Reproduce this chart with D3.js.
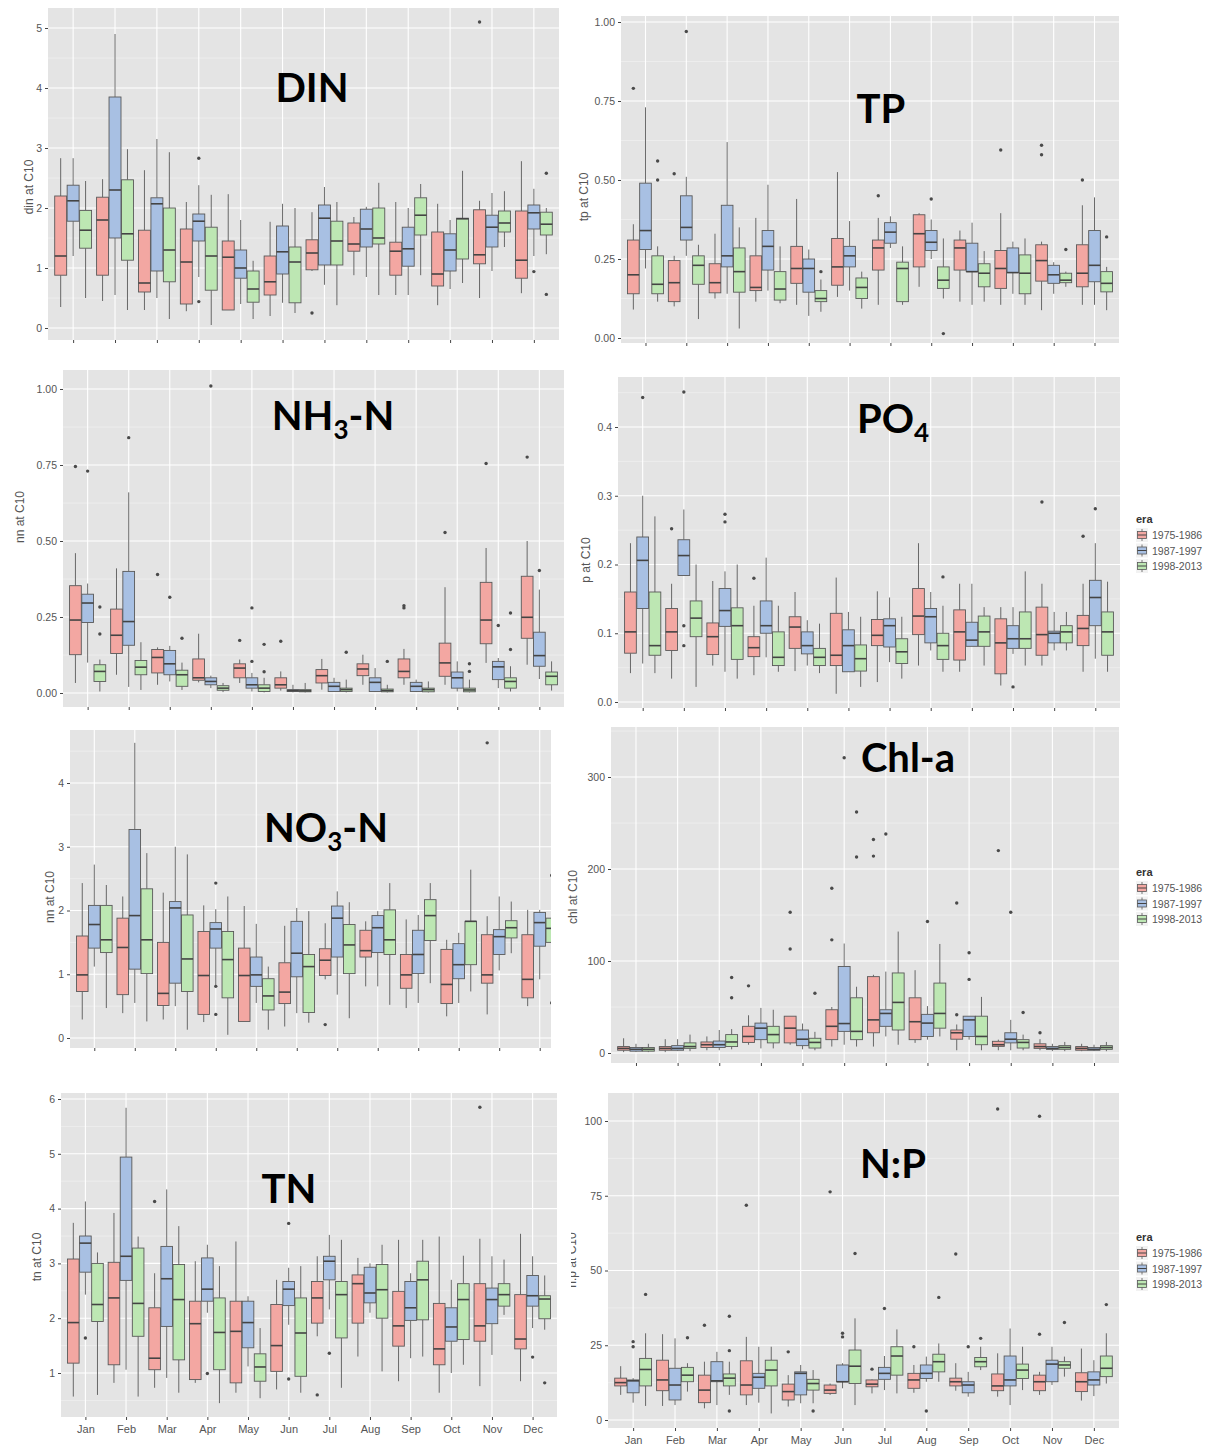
<!DOCTYPE html>
<html><head><meta charset="utf-8">
<script src="https://cdn.jsdelivr.net/npm/d3@7"></script>
<style>body{margin:0;background:#fff;} svg{display:block;}</style>
</head><body><svg id="c" width="1230" height="1454"></svg>
<script>
const months = ["Jan","Feb","Mar","Apr","May","Jun","Jul","Aug","Sep","Oct","Nov","Dec"];
const eras = ["1975-1986","1987-1997","1998-2013"];

// each row: [lower whisker, q1, median, q3, upper whisker]; outliers: [month index, era index, value]
const dinRed = [[0.35,0.88,1.2,2.2,2.83],[0.45,0.88,1.8,2.18,2.48],[0.3,0.6,0.75,1.63,2.63],[0.28,0.4,1.1,1.65,2.1],[0.3,0.3,1.18,1.45,2.23],[0.2,0.55,0.77,1.2,1.77],[0.95,0.97,1.25,1.47,1.93],[0.88,1.28,1.4,1.75,1.85],[0.55,0.88,1.28,1.43,2.1],[0.38,0.7,0.9,1.6,2.07],[0.5,1.07,1.22,1.97,2.12],[0.58,0.83,1.13,1.95,2.78]];
const dinBlue = [[1.2,1.78,2.12,2.38,2.83],[0.55,1.5,2.3,3.85,4.9],[0.5,0.95,2.07,2.17,3.15],[0.85,1.45,1.78,1.9,2.38],[0.4,0.83,1.0,1.3,1.8],[0.42,0.9,1.27,1.7,2.07],[0.72,1.05,1.83,2.05,2.35],[0.85,1.35,1.65,1.98,2.02],[0.55,1.03,1.32,1.68,2.0],[0.65,0.95,1.3,1.57,1.8],[0.95,1.35,1.68,1.88,2.25],[1.2,1.65,1.92,2.05,2.32]];
const dinGreen = [[0.5,1.33,1.63,1.96,2.45],[0.3,1.13,1.57,2.47,2.98],[0.15,0.77,1.3,2.0,2.93],[0.05,0.63,1.2,1.68,2.22],[0.15,0.43,0.65,0.95,1.12],[0.25,0.42,1.1,1.35,2.0],[0.38,1.05,1.45,1.78,2.1],[0.55,1.4,1.5,2.0,2.42],[0.88,1.55,1.88,2.17,2.4],[0.75,1.15,1.82,1.83,2.62],[1.35,1.6,1.75,1.95,2.28],[1.23,1.55,1.73,1.93,2.0]];
const dinOut = [[3,1,2.83],[3,1,0.44],[6,0,0.25],[10,0,5.1],[11,1,0.94],[11,2,2.58],[11,2,0.56]];

const tpRed = [[0.09,0.14,0.2,0.31,0.36],[0.1,0.115,0.175,0.245,0.26],[0.125,0.143,0.175,0.235,0.33],[0.115,0.15,0.16,0.26,0.38],[0.105,0.173,0.22,0.29,0.44],[0.13,0.167,0.225,0.315,0.525],[0.105,0.215,0.285,0.31,0.38],[0.162,0.225,0.33,0.39,0.395],[0.115,0.215,0.285,0.31,0.34],[0.105,0.157,0.22,0.277,0.395],[0.088,0.18,0.245,0.295,0.305],[0.105,0.162,0.205,0.295,0.42]];
const tpBlue = [[0.22,0.28,0.34,0.49,0.73],[0.26,0.31,0.35,0.45,0.51],[0.14,0.225,0.26,0.42,0.62],[0.15,0.215,0.29,0.34,0.485],[0.07,0.145,0.22,0.25,0.28],[0.15,0.225,0.26,0.29,0.37],[0.285,0.3,0.335,0.365,0.385],[0.25,0.277,0.303,0.34,0.375],[0.105,0.21,0.21,0.3,0.365],[0.14,0.207,0.207,0.285,0.305],[0.14,0.173,0.2,0.23,0.24],[0.105,0.178,0.23,0.34,0.445]];
const tpGreen = [[0.115,0.14,0.17,0.26,0.29],[0.06,0.17,0.23,0.26,0.295],[0.03,0.145,0.21,0.285,0.35],[0.11,0.12,0.155,0.21,0.29],[0.083,0.115,0.125,0.15,0.185],[0.093,0.125,0.16,0.19,0.21],[0.105,0.115,0.22,0.24,0.29],[0.125,0.157,0.183,0.225,0.315],[0.115,0.162,0.205,0.235,0.275],[0.105,0.14,0.205,0.263,0.315],[0.162,0.175,0.183,0.205,0.21],[0.088,0.146,0.173,0.21,0.225]];
const tpOut = [[0,0,0.79],[0,2,0.56],[0,2,0.5],[1,0,0.52],[1,1,0.97],[4,2,0.21],[6,0,0.45],[7,1,0.44],[7,2,0.014],[9,0,0.595],[10,0,0.61],[10,0,0.58],[10,2,0.28],[11,0,0.5],[11,2,0.32]];

const nhRed = [[0.033,0.126,0.24,0.353,0.46],[0.06,0.13,0.19,0.276,0.41],[0.027,0.066,0.117,0.143,0.15],[0.035,0.042,0.05,0.112,0.195],[0.033,0.05,0.082,0.096,0.11],[0.008,0.016,0.027,0.05,0.071],[0.011,0.033,0.057,0.077,0.112],[0.027,0.057,0.079,0.096,0.126],[0.027,0.05,0.071,0.112,0.145],[0.027,0.055,0.099,0.164,0.348],[0.099,0.162,0.24,0.364,0.477],[0.093,0.18,0.249,0.384,0.5]];
const nhBlue = [[0.1,0.232,0.296,0.325,0.36],[0.02,0.157,0.235,0.4,0.66],[0.038,0.06,0.096,0.14,0.155],[0.016,0.027,0.038,0.05,0.057],[0.005,0.016,0.027,0.05,0.066],[0.002,0.005,0.008,0.011,0.027],[0.005,0.005,0.022,0.035,0.05],[0.003,0.005,0.035,0.05,0.082],[0.003,0.005,0.022,0.035,0.044],[0.005,0.016,0.05,0.069,0.104],[0.016,0.044,0.086,0.104,0.115],[0.046,0.088,0.123,0.2,0.34]];
const nhGreen = [[0.005,0.038,0.071,0.093,0.11],[0.01,0.06,0.085,0.107,0.167],[0.01,0.022,0.06,0.075,0.1],[0.003,0.009,0.016,0.024,0.033],[0.002,0.005,0.016,0.027,0.05],[0.002,0.004,0.007,0.011,0.033],[0.002,0.005,0.011,0.016,0.044],[0.002,0.004,0.008,0.013,0.027],[0.002,0.004,0.011,0.016,0.038],[0.002,0.004,0.01,0.016,0.044],[0.005,0.016,0.038,0.05,0.088],[0.008,0.027,0.055,0.069,0.104]];
const nhOut = [[0,0,0.745],[0,1,0.73],[0,2,0.283],[0,2,0.194],[1,1,0.84],[2,0,0.39],[2,1,0.315],[2,2,0.18],[3,1,1.01],[4,0,0.173],[4,1,0.28],[4,1,0.104],[4,2,0.16],[4,2,0.07],[5,0,0.17],[6,2,0.134],[7,2,0.104],[8,0,0.287],[8,0,0.28],[9,0,0.528],[9,2,0.096],[9,2,0.071],[10,0,0.755],[10,1,0.222],[10,2,0.263],[10,2,0.143],[11,0,0.776],[11,1,0.403]];

const poRed = [[0.042,0.071,0.102,0.16,0.231],[0.034,0.075,0.102,0.136,0.172],[0.053,0.069,0.095,0.115,0.176],[0.039,0.066,0.079,0.095,0.14],[0.045,0.078,0.109,0.124,0.16],[0.012,0.053,0.068,0.129,0.181],[0.029,0.082,0.097,0.12,0.161],[0.053,0.098,0.125,0.165,0.231],[0.044,0.061,0.102,0.134,0.172],[0.024,0.041,0.086,0.121,0.138],[0.053,0.068,0.098,0.138,0.172],[0.044,0.082,0.107,0.126,0.172]];
const poBlue = [[0.056,0.136,0.206,0.24,0.3],[0.184,0.184,0.213,0.236,0.28],[0.044,0.11,0.133,0.165,0.19],[0.065,0.1,0.111,0.147,0.21],[0.053,0.07,0.082,0.102,0.119],[0.044,0.044,0.082,0.105,0.131],[0.058,0.08,0.111,0.121,0.152],[0.075,0.086,0.124,0.136,0.16],[0.081,0.081,0.09,0.116,0.172],[0.07,0.078,0.092,0.111,0.138],[0.075,0.086,0.1,0.103,0.131],[0.063,0.111,0.152,0.177,0.231]];
const poGreen = [[0.042,0.068,0.082,0.16,0.27],[0.022,0.095,0.122,0.147,0.2],[0.034,0.062,0.111,0.137,0.2],[0.044,0.053,0.065,0.102,0.14],[0.042,0.053,0.065,0.078,0.114],[0.022,0.045,0.063,0.083,0.124],[0.034,0.056,0.073,0.092,0.124],[0.044,0.062,0.082,0.1,0.14],[0.053,0.081,0.102,0.125,0.138],[0.053,0.078,0.092,0.131,0.19],[0.075,0.086,0.102,0.111,0.131],[0.044,0.068,0.102,0.131,0.175]];
const poOut = [[0,1,0.443],[1,0,0.252],[1,1,0.451],[1,1,0.111],[1,1,0.082],[2,1,0.273],[2,1,0.262],[3,0,0.18],[7,2,0.182],[9,1,0.022],[10,0,0.291],[11,0,0.241],[11,1,0.281]];

const noRed = [[0.29,0.73,0.99,1.6,2.43],[0.39,0.68,1.42,1.88,2.22],[0.29,0.51,0.7,1.5,2.28],[0.25,0.37,0.98,1.67,2.08],[0.26,0.26,0.98,1.41,2.07],[0.18,0.54,0.72,1.18,1.76],[0.92,0.98,1.22,1.4,1.8],[0.81,1.27,1.37,1.69,1.83],[0.47,0.78,0.99,1.31,1.86],[0.34,0.54,0.84,1.39,1.54],[0.37,0.86,0.99,1.62,1.91],[0.5,0.63,0.92,1.62,2.01]];
const noBlue = [[1.12,1.41,1.78,2.08,2.72],[0.55,1.08,1.92,3.27,4.63],[0.5,0.86,2.04,2.14,3.0],[0.81,1.41,1.71,1.81,2.02],[0.55,0.81,0.99,1.27,1.79],[0.39,0.96,1.33,1.83,2.04],[0.68,1.27,1.88,2.07,2.3],[0.81,1.34,1.73,1.92,1.99],[0.55,1.01,1.31,1.69,1.93],[0.55,0.93,1.15,1.48,1.65],[1.06,1.31,1.59,1.7,2.22],[0.92,1.44,1.81,1.97,2.01]];
const noGreen = [[0.47,1.34,1.54,2.08,2.4],[0.26,1.01,1.54,2.34,2.9],[0.13,0.73,1.24,1.93,2.88],[0.05,0.63,1.23,1.67,2.22],[0.13,0.44,0.66,0.93,1.12],[0.24,0.4,1.12,1.31,1.99],[0.31,1.01,1.46,1.78,2.13],[0.52,1.31,1.54,2.01,2.43],[0.86,1.53,1.92,2.17,2.43],[0.73,1.15,1.83,1.83,2.64],[1.33,1.57,1.73,1.84,2.14],[1.25,1.5,1.72,1.88,2.0]];
const noOut = [[3,1,2.43],[3,1,0.81],[3,1,0.37],[6,0,0.21],[10,0,4.63],[11,2,2.55],[11,2,0.55]];

const chlRed = [[1,3,5,7,16],[1,3,5,7,15],[3,6,9,12,18],[9,11.5,18,29,41],[9,11,27,40,40],[7,14.5,29,47,50],[7,22,36,83,85],[11,14.5,34,60,90],[3,15,22,25,31],[3,7.2,9,12.7,14.5],[3,5,7,10,15],[2,3,5,7,10]];
const chlBlue = [[1,2,4,6,10],[2,3,5,8,15],[3,6,9,13,25],[5,14.5,27,32.5,49],[4,8,15,25,32],[9,23.5,32,94,119],[18,29,43,47,88.5],[14.5,18,32.5,42,51],[14.5,18,36,40,40],[3,11,15,22,36],[2,4,5,7,10],[2,3,4,6,9]];
const chlGreen = [[1,2,4,6,10],[2,5,7,11,20],[4,7,12,20,26],[5,11,20,29,47],[3,5.4,11.5,16,23],[7,14.5,23.5,60,72],[9,25,55,87,132],[18,27,43,76,118.5],[3,9,18,40,61],[3,5.4,11.5,14.5,20],[2,4,6,8,12],[2,4,6,8,12]];
const chlOut = [[2,2,82],[2,2,60],[3,0,73],[4,0,153],[4,0,113],[4,2,65],[5,0,179],[5,0,123],[5,1,321],[5,2,262],[5,2,213],[6,0,232],[6,0,214],[6,1,238],[7,1,143],[8,0,163],[8,0,41.5],[8,1,109],[8,1,80],[9,0,220],[9,1,153],[9,2,44],[10,0,22]];

const tnRed = [[0.57,1.18,1.92,3.08,3.74],[0.82,1.15,2.37,3.02,3.92],[0.73,1.06,1.27,2.19,2.82],[0.82,0.88,1.9,2.31,3.04],[0.64,0.82,1.76,2.31,3.4],[0.7,1.03,1.5,2.25,2.7],[1.67,1.91,2.37,2.67,3.13],[1.3,1.91,2.63,2.79,3.1],[0.85,1.49,1.86,2.49,3.43],[0.64,1.15,1.44,2.27,3.49],[0.76,1.58,1.86,2.63,3.45],[0.85,1.44,1.62,2.43,3.54]];
const tnBlue = [[2.43,2.84,3.37,3.5,4.13],[1.06,2.69,3.13,4.94,5.84],[0.91,1.85,2.72,3.31,4.35],[2.1,2.31,2.53,3.1,3.34],[1.12,1.46,1.92,2.31,2.4],[1.88,2.23,2.53,2.67,2.92],[2.16,2.7,3.04,3.13,3.52],[2.1,2.28,2.46,2.93,3.0],[1.27,1.96,2.19,2.67,2.82],[1.0,1.58,1.84,2.19,2.7],[1.33,1.9,2.34,2.55,3.13],[1.82,2.22,2.41,2.78,3.13]];
const tnGreen = [[0.6,1.94,2.25,3.0,3.2],[0.57,1.67,2.27,3.28,3.49],[0.64,1.24,2.34,2.98,3.68],[0.45,1.06,1.74,2.37,2.95],[0.54,0.85,1.11,1.35,1.82],[0.64,0.94,1.73,2.37,2.95],[0.73,1.64,2.43,2.67,3.43],[1.03,2.0,2.52,2.98,3.34],[1.3,1.97,2.7,3.04,3.43],[1.15,1.61,2.34,2.63,3.14],[2.06,2.22,2.43,2.63,3.07],[1.79,1.99,2.35,2.41,2.78]];
const tnOut = [[0,1,1.64],[2,0,4.13],[3,1,0.99],[5,1,3.73],[5,1,0.89],[6,0,0.6],[6,1,1.36],[10,0,5.85],[11,1,1.29],[11,2,0.82]];

const npRed = [[8.4,11.4,12.5,14,18],[4.7,9.8,13.4,20,28.7],[3.9,5.8,10,15,19.5],[5,8.4,11.7,19.8,27.8],[4.5,6.7,9.5,12,15],[8.4,8.9,10,11.7,12.2],[8.9,11.1,12,13.4,13.6],[9.1,10.6,13.4,15.6,18.4],[9.8,11.4,12.8,14,19],[7.8,9.8,11.4,15.4,22.3],[8.4,9.8,12.8,15,16.1],[6.5,9.5,12.8,15.8,23.9]];
const npBlue = [[5.8,9.1,13.1,13.4,14],[5,6.7,11.7,17.3,27.3],[5,12.8,13.1,19.5,22.8],[5.8,10.6,14.3,15.6,24.5],[5.6,8.4,15.6,16.1,18.4],[10.6,12.8,12.8,18.4,19],[10,13.6,15.6,17.6,21.4],[12.8,13.9,15.6,18.4,21.2],[7.8,9.1,11.7,12.8,16.1],[5,11.4,13.4,21.4,30.6],[11.7,12.8,18.7,20,24.5],[8,11.7,13.4,16.1,20]];
const npGreen = [[4.7,11.4,16.9,20.6,29],[9.5,12.8,15,17.6,19],[8.4,11.4,14,15.4,19.5],[2.2,11.4,16.7,20,24.5],[5.6,10,12.2,13.6,16.7],[5,12.2,18,23.4,34],[8.9,15,21.4,24.5,30.3],[12.8,16.1,19.5,22,25.6],[16.7,17.8,19.5,20.9,24.5],[10,13.9,16.7,18.7,24.5],[14.5,17.3,18.4,19.5,21.2],[12.2,14.5,17.3,21.4,29]];
const npOut = [[0,1,26.2],[0,1,24.5],[0,2,42],[1,2,27.5],[2,0,31.7],[2,2,34.7],[2,2,23.2],[2,2,3],[3,0,71.8],[4,0,22.8],[4,2,3],[5,0,76.3],[5,1,29],[5,1,27.8],[5,2,55.7],[6,0,17],[6,1,37.3],[7,0,24.5],[7,1,3],[7,2,41],[8,0,55.5],[8,1,24.5],[8,2,27.3],[9,0,104],[10,0,101.6],[10,0,28.7],[10,2,32.6],[11,2,38.6]];

const fills = ["#F3A7A2","#A8C0E3","#BDE7B3"];
const boxStroke = "#595959";
const svg = d3.select("#c");
const defs = svg.append("defs");

const panels = [
  {id:"din", stats:[dinRed,dinBlue,dinGreen], out:dinOut, x0:48, x1:559, gx1:559, y0:8, y1:340, vA:0, pA:328, vB:5, pB:28, ticks:[0,1,2,3,4,5], fmt:d3.format("d"), ylab:"din at C10", ylx:29, yly:187, title:["DIN"], tx:312, ty:102, xlab:false},
  {id:"tp", stats:[tpRed,tpBlue,tpGreen], out:tpOut, x0:621, x1:1119, gx1:1119, y0:16, y1:343, vA:0, pA:338, vB:1, pB:22, ticks:[0,0.25,0.5,0.75,1], fmt:d3.format(".2f"), ylab:"tp at C10", ylx:584, yly:197, title:["TP"], tx:881, ty:123, xlab:false},
  {id:"nh", stats:[nhRed,nhBlue,nhGreen], out:nhOut, x0:63, x1:564, gx1:564, y0:370, y1:707, vA:0, pA:693, vB:1, pB:389, ticks:[0,0.25,0.5,0.75,1], fmt:d3.format(".2f"), ylab:"nn at C10", ylx:20, yly:517, title:["NH","3","-N"], tx:333, ty:430, xlab:false},
  {id:"po", stats:[poRed,poBlue,poGreen], out:poOut, x0:618, x1:1120, gx1:1120, y0:377, y1:708, vA:0, pA:702, vB:0.4, pB:427, ticks:[0,0.1,0.2,0.3,0.4], fmt:d3.format(".1f"), ylab:"p at C10", ylx:586, yly:560, title:["PO","4",""], tx:893, ty:433, xlab:false},
  {id:"no", stats:[noRed,noBlue,noGreen], out:noOut, x0:70, x1:564, gx1:551, y0:730, y1:1048, vA:0, pA:1038, vB:4, pB:783, ticks:[0,1,2,3,4], fmt:d3.format("d"), ylab:"nn at C10", ylx:50, yly:897, title:["NO","3","-N"], tx:326, ty:842, xlab:false},
  {id:"chl", stats:[chlRed,chlBlue,chlGreen], out:chlOut, x0:611, x1:1119, gx1:1119, y0:727, y1:1063, vA:0, pA:1053, vB:300, pB:777, ticks:[0,100,200,300], fmt:d3.format("d"), ylab:"chl at C10", ylx:573, yly:897, title:["Chl-a"], tx:908, ty:772, xlab:false},
  {id:"tn", stats:[tnRed,tnBlue,tnGreen], out:tnOut, x0:61, x1:557, gx1:557, y0:1093, y1:1417, vA:1, pA:1373, vB:6, pB:1099, ticks:[1,2,3,4,5,6], fmt:d3.format("d"), ylab:"tn at C10", ylx:37, yly:1257, title:["TN"], tx:289, ty:1203, xlab:true},
  {id:"np", stats:[npRed,npBlue,npGreen], out:npOut, x0:608, x1:1119, gx1:1119, y0:1093, y1:1428, vA:0, pA:1420, vB:100, pB:1121, ticks:[0,25,50,75,100], fmt:d3.format("d"), ylab:"n:p at C10", ylx:572, yly:1260, title:["N:P"], tx:893, ty:1178, xlab:true, clipLab:571}
];

panels.forEach(p => {
  const g = svg.append("g");
  const W = p.gx1 - p.x0, H = p.y1 - p.y0;
  defs.append("clipPath").attr("id","clip-"+p.id).append("rect")
    .attr("x",p.x0).attr("y",p.y0).attr("width",W).attr("height",H);
  g.append("rect").attr("x",p.x0).attr("y",p.y0).attr("width",W).attr("height",H).attr("fill","#E4E4E4");

  const x = d3.scalePoint().domain(months).range([p.x0,p.x1]).padding(0.6);
  const step = x.step();
  const xe = d3.scaleBand().domain(eras).range([-0.44*step, 0.44*step]).paddingInner(0.04);
  const y = d3.scaleLinear().domain([p.vA,p.vB]).range([p.pA,p.pB]);
  const vLo = y.invert(p.y1), vHi = y.invert(p.y0);

  const inner = g.append("g").attr("clip-path","url(#clip-"+p.id+")");
  const st = p.ticks[1]-p.ticks[0];
  const minors = [];
  for (let v = p.ticks[0]-st/2; v <= vHi; v += st) if (v >= vLo) minors.push(v);
  inner.selectAll(".mg").data(minors).join("line")
    .attr("x1",p.x0).attr("x2",p.gx1).attr("y1",d=>y(d)).attr("y2",d=>y(d))
    .attr("stroke","#F4F4F4").attr("stroke-width",0.6);
  inner.selectAll(".Mg").data(p.ticks).join("line")
    .attr("x1",p.x0).attr("x2",p.gx1).attr("y1",d=>y(d)).attr("y2",d=>y(d))
    .attr("stroke","#FFFFFF").attr("stroke-width",1.1);
  inner.selectAll(".Vg").data(months).join("line")
    .attr("x1",d=>x(d)).attr("x2",d=>x(d)).attr("y1",p.y0).attr("y2",p.y1)
    .attr("stroke","#FFFFFF").attr("stroke-width",1.1);

  p.stats.forEach((arr, e) => {
    const bw = xe.bandwidth();
    const gg = inner.append("g");
    arr.forEach((s, m) => {
      const cx = x(months[m]) + xe(eras[e]) + bw/2;
      gg.append("line").attr("x1",cx).attr("x2",cx).attr("y1",y(s[4])).attr("y2",y(s[3]))
        .attr("stroke",boxStroke).attr("stroke-width",0.9);
      gg.append("line").attr("x1",cx).attr("x2",cx).attr("y1",y(s[1])).attr("y2",y(s[0]))
        .attr("stroke",boxStroke).attr("stroke-width",0.9);
      gg.append("rect").attr("x",cx-bw/2).attr("width",bw)
        .attr("y",y(s[3])).attr("height",Math.max(0.8, y(s[1])-y(s[3])))
        .attr("fill",fills[e]).attr("stroke",boxStroke).attr("stroke-width",0.9);
      gg.append("line").attr("x1",cx-bw/2).attr("x2",cx+bw/2).attr("y1",y(s[2])).attr("y2",y(s[2]))
        .attr("stroke","#444").attr("stroke-width",1.6);
    });
  });
  inner.selectAll(".out").data(p.out).join("circle")
    .attr("cx",d=>x(months[d[0]]) + xe(eras[d[1]]) + xe.bandwidth()/2)
    .attr("cy",d=>y(d[2])).attr("r",1.7).attr("fill","#4a4a4a");

  const ya = g.append("g").attr("transform","translate("+p.x0+",0)")
    .call(d3.axisLeft(y).tickValues(p.ticks).tickFormat(p.fmt).tickSize(3).tickPadding(3));
  ya.select(".domain").remove();
  ya.selectAll("line").attr("stroke","#444");
  ya.selectAll("text").attr("fill","#555").style("font-family","'Liberation Sans',Arial,sans-serif").style("font-size","10.5px");

  const xa = g.append("g").attr("transform","translate(0,"+p.y1+")")
    .call(d3.axisBottom(x).tickSize(3).tickPadding(5).tickFormat(p.xlab ? (d=>d) : (()=>"")));
  xa.select(".domain").remove();
  xa.selectAll("line").attr("stroke","#444").filter(d=>x(d)>p.gx1).remove();
  xa.selectAll("text").attr("fill","#555").style("font-family","'Liberation Sans',Arial,sans-serif").style("font-size","11px");

  const labHolder = p.clipLab ? g.append("g").attr("clip-path","url(#cl-"+p.id+")") : g;
  if (p.clipLab) {
    defs.append("clipPath").attr("id","cl-"+p.id).append("rect").attr("x",p.clipLab).attr("y",p.y0).attr("width",30).attr("height",H);
  }
  labHolder.append("text").attr("transform","translate("+p.ylx+","+p.yly+") rotate(-90)")
    .attr("text-anchor","middle").attr("dominant-baseline","central")
    .attr("fill","#555").style("font-family","'Liberation Sans',Arial,sans-serif").style("font-size","12px").text(p.ylab);

  const t = g.append("text").attr("x",p.tx).attr("y",p.ty).attr("text-anchor","middle")
    .style("font-family","Lato,'Open Sans',sans-serif").style("font-weight","700").style("font-size","40px").attr("fill","#000");
  t.append("tspan").text(p.title[0]);
  if (p.title.length > 1) {
    t.append("tspan").attr("dy",9).style("font-size","26px").text(p.title[1]);
    if (p.title[2]) t.append("tspan").attr("dy",-9).text(p.title[2]);
  }
});

[519, 872, 1237].forEach(ly => {
  const lg = svg.append("g").attr("transform","translate(1134,"+ly+")");
  lg.append("text").attr("x",2).attr("y",4).text("era")
    .style("font-family","'Liberation Sans',Arial,sans-serif").style("font-weight","700").style("font-size","11px").attr("fill","#333");
  eras.forEach((e,i) => {
    const cy = 16 + i*15.5;
    const k = lg.append("g").attr("transform","translate(2,"+cy+")");
    k.append("rect").attr("x",0).attr("y",-7).attr("width",12).attr("height",14).attr("fill","#F2F2F2");
    k.append("line").attr("x1",6).attr("x2",6).attr("y1",-6).attr("y2",6).attr("stroke",boxStroke).attr("stroke-width",0.8);
    k.append("rect").attr("x",1.5).attr("y",-3.5).attr("width",9).attr("height",7).attr("fill",fills[i]).attr("stroke",boxStroke).attr("stroke-width",0.8);
    k.append("line").attr("x1",1.5).attr("x2",10.5).attr("y1",0).attr("y2",0).attr("stroke","#444").attr("stroke-width",1);
    lg.append("text").attr("x",18).attr("y",cy).attr("dominant-baseline","central").text(e)
      .style("font-family","'Liberation Sans',Arial,sans-serif").style("font-size","10.5px").attr("fill","#555");
  });
});
</script></body></html>
